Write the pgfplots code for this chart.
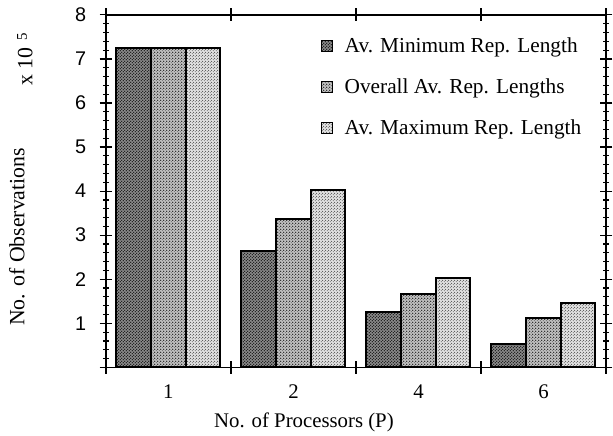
\documentclass[border=0pt]{standalone}
\usepackage{pgfplots}
\pgfplotsset{compat=1.18}
\usepackage{fontspec}
\setmainfont{Liberation Serif}
\newfontfamily\sansf{Liberation Sans}
\usetikzlibrary{patterns}

\pgfdeclarepatternformonly{denseD}{\pgfpointorigin}{\pgfqpoint{3pt}{3pt}}{\pgfqpoint{3pt}{3pt}}{
  \pgfpathcircle{\pgfqpoint{0.75pt}{0.75pt}}{0.72pt}
  \pgfpathcircle{\pgfqpoint{2.25pt}{2.25pt}}{0.72pt}
  \pgfusepath{fill}}
\pgfdeclarepatternformonly{medD}{\pgfpointorigin}{\pgfqpoint{3pt}{3pt}}{\pgfqpoint{3pt}{3pt}}{
  \pgfpathcircle{\pgfqpoint{0.75pt}{0.75pt}}{0.6pt}
  \pgfpathcircle{\pgfqpoint{2.25pt}{2.25pt}}{0.45pt}
  \pgfusepath{fill}}
\pgfdeclarepatternformonly{lightD}{\pgfpointorigin}{\pgfqpoint{3pt}{3pt}}{\pgfqpoint{3pt}{3pt}}{
  \pgfpathcircle{\pgfqpoint{0.75pt}{0.75pt}}{0.5pt}
  \pgfpathcircle{\pgfqpoint{2.25pt}{2.25pt}}{0.35pt}
  \pgfusepath{fill}}

\begin{document}
\begin{tikzpicture}
\begin{axis}[
  at={(0,0)}, anchor=south west,
  scale only axis,
  width=505pt, height=356pt,
  ybar=0pt, bar width=35pt,
  xmin=-0.5, xmax=3.5,
  ymin=0, ymax=8,
  xtick={-0.5,0.5,1.5,2.5,3.5},
  xticklabels={},
  extra x ticks={0,1,2,3},
  extra x tick labels={1,2,4,6},
  extra x tick style={major tick length=0pt, xticklabel style={font=\fontsize{21}{24}\selectfont, yshift=-14pt}},
  ytick={0,1,2,3,4,5,6,7,8},
  yticklabels={,1,2,3,4,5,6,7,8},
  minor y tick num=4,
  tick align=center,
  major tick length=13pt,
  minor tick length=6pt,
  every tick/.style={black, line width=1.2pt},
  axis line style={line width=1.5pt},
  yticklabel style={font=\sansf\fontsize{20}{22}\selectfont, xshift=-10pt},
  xlabel={No. of Processors (P)},
  ylabel={No. of Observations},
  every axis x label/.style={at={(axis description cs:0.396,-0.157)}, anchor=center, font=\fontsize{21}{24}\selectfont},
  every axis y label/.style={at={(axis description cs:-0.178,0.37)}, anchor=center, rotate=90, font=\fontsize{22}{24}\selectfont},
  legend style={draw=none, fill=none, at={(axis description cs:0.43,0.94)}, anchor=north west,
    font=\fontsize{21.5}{24}\selectfont, row sep=21pt, inner sep=0pt,
    nodes={inner xsep=12pt}},
  legend cell align=left,
  legend image code/.code={\draw[#1, line width=0.8pt] (0pt,-5pt) rectangle (11pt,6pt);},
]
\addplot[draw=black, line width=2pt, fill=black!45, postaction={pattern=denseD}]
  coordinates {(0,7.25) (1,2.65) (2,1.25) (3,0.52)};
\addplot[draw=black, line width=2pt, fill=black!24, postaction={pattern=medD}]
  coordinates {(0,7.25) (1,3.37) (2,1.67) (3,1.11)};
\addplot[draw=black, line width=2pt, fill=black!12, postaction={pattern=lightD}]
  coordinates {(0,7.25) (1,4.02) (2,2.02) (3,1.47)};
\legend{Av. Minimum Rep. Length, Overall Av. Rep. Lengths, Av. Maximum Rep. Length}
\end{axis}
\node[rotate=90, anchor=center, font=\fontsize{22}{24}\selectfont] at (-82pt,311pt) {x 10\hspace{0.35em}\raisebox{0.55ex}{\fontsize{15}{16}\selectfont 5}};
\path[use as bounding box] (-107pt,-66pt) rectangle (506pt,371pt);
\end{tikzpicture}
\end{document}
